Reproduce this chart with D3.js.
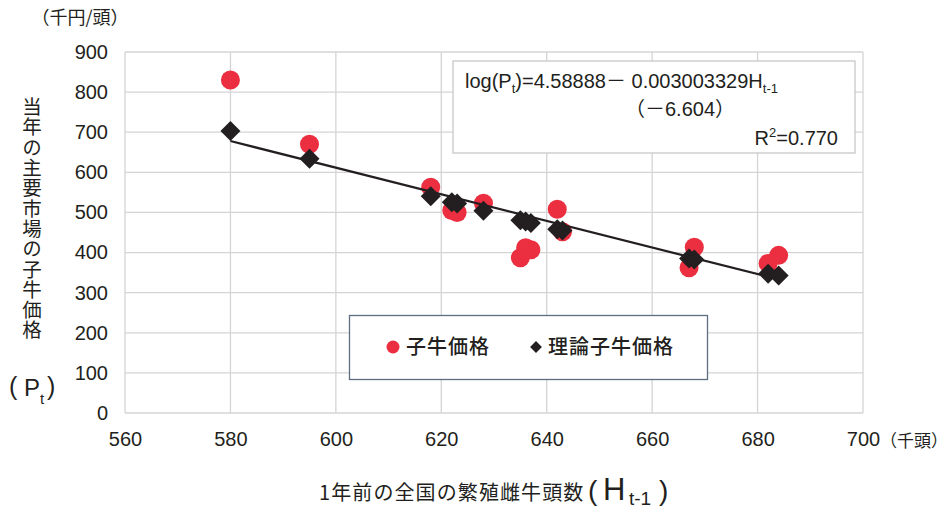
<!DOCTYPE html>
<html><head><meta charset="utf-8">
<script src="https://cdn.jsdelivr.net/npm/d3@7/dist/d3.min.js"></script>
<style>
html,body{margin:0;padding:0;background:#fff;}
svg{display:block;}
text{font-family:"Liberation Sans","Noto Sans CJK JP",sans-serif;fill:#231F20;}
.cjk{font-family:"Noto Sans CJK JP","Noto Sans CJK SC",sans-serif;}
</style></head>
<body>
<script>
// ---- data ----
const herdSize = [580, 595, 618, 622, 623, 628, 635, 636, 637, 642, 643, 667, 668, 682, 684];
const calfPrice = [830, 670, 563, 505, 500, 523, 387, 412, 407, 508, 452, 362, 413, 373, 393];
const theoryPrice = [703.0, 633.8, 540.5, 525.7, 522.1, 504.4, 480.5, 477.2, 473.9, 457.8, 454.7, 385.2, 382.5, 347.2, 342.5];
const trendH = [580, 684];
const trendP = [678, 333];
const xTicks = [560, 580, 600, 620, 640, 660, 680, 700];
const yTicks = [0, 100, 200, 300, 400, 500, 600, 700, 800, 900];
const seriesNames = ["子牛価格", "理論子牛価格"];

const W = 949, H = 509;
const M = {left: 125, right: 863, top: 52, bottom: 413};
const svg = d3.select("body").append("svg").attr("width", W).attr("height", H);

const x = d3.scaleLinear().domain([560, 700]).range([M.left, M.right]);
const y = d3.scaleLinear().domain([0, 900]).range([M.bottom, M.top]);

const gridColor = "#D4D4D4";
// grid
svg.append("g").selectAll("line").data(yTicks).join("line")
  .attr("x1", M.left).attr("x2", M.right).attr("y1", d => y(d)).attr("y2", d => y(d))
  .attr("stroke", gridColor).attr("stroke-width", 1.3);
svg.append("g").selectAll("line").data(xTicks).join("line")
  .attr("y1", M.top).attr("y2", M.bottom).attr("x1", d => x(d)).attr("x2", d => x(d))
  .attr("stroke", gridColor).attr("stroke-width", 1.3);

// axes (labels only)
const yAxis = d3.axisLeft(y).tickValues(yTicks).tickSize(0).tickPadding(0).tickFormat(d3.format("d"));
const gy = svg.append("g").attr("transform", `translate(${M.left - 17},0)`).call(yAxis);
gy.select(".domain").remove();
gy.selectAll("text").attr("font-size", 20).attr("font-family", "Liberation Sans").attr("fill", "#231F20");

const xAxis = d3.axisBottom(x).tickValues(xTicks).tickSize(0).tickPadding(0).tickFormat(d3.format("d"));
const gx = svg.append("g").attr("transform", `translate(0,${M.bottom + 19})`).call(xAxis);
gx.select(".domain").remove();
gx.selectAll("text").attr("font-size", 20).attr("font-family", "Liberation Sans").attr("fill", "#231F20");

svg.append("text").attr("class", "cjk").attr("x", x(700) + 17).attr("y", M.bottom + 34)
  .attr("font-size", 17).text("（千頭）");

// red circles
svg.append("g").selectAll("circle").data(herdSize).join("circle")
  .attr("cx", d => x(d)).attr("cy", (d, i) => y(calfPrice[i])).attr("r", 9.5)
  .attr("fill", "#EC2F40");

// trend line
svg.append("line")
  .attr("x1", x(trendH[0])).attr("y1", y(trendP[0]))
  .attr("x2", x(trendH[1])).attr("y2", y(trendP[1]))
  .attr("stroke", "#231F20").attr("stroke-width", 2.2);

// diamonds
const diamond = d3.symbol().type(d3.symbolSquare).size(200);
svg.append("g").selectAll("path").data(herdSize).join("path")
  .attr("d", diamond)
  .attr("transform", (d, i) => `translate(${x(d)},${y(theoryPrice[i])}) rotate(45)`)
  .attr("fill", "#231F20");

// equation box
svg.append("rect").attr("x", 453).attr("y", 61).attr("width", 402).attr("height", 92)
  .attr("fill", "#fff").attr("stroke", "#C8C8C8").attr("stroke-width", 1.3);
const eq = svg.append("text").attr("x", 465).attr("y", 88).attr("font-size", 20);
eq.append("tspan").text("log(P");
eq.append("tspan").attr("font-size", 13).attr("dy", 5).text("t");
eq.append("tspan").attr("dy", -5).text(")=4.58888");
eq.append("tspan").attr("class", "cjk").text("－");
eq.append("tspan").text(" 0.003003329H");
eq.append("tspan").attr("font-size", 13).attr("dy", 5).text("t-1");
const se = svg.append("text").attr("x", 680).attr("y", 116).attr("font-size", 20).attr("text-anchor", "middle");
se.append("tspan").attr("class", "cjk").text("（－");
se.append("tspan").text("6.604");
se.append("tspan").attr("class", "cjk").text("）");
const r2 = svg.append("text").attr("x", 838).attr("y", 145).attr("font-size", 20).attr("text-anchor", "end");
r2.append("tspan").text("R");
r2.append("tspan").attr("font-size", 13).attr("dy", -8).text("2");
r2.append("tspan").attr("dy", 8).text("=0.770");

// legend
svg.append("rect").attr("x", 349.5).attr("y", 315.5).attr("width", 358).attr("height", 64)
  .attr("fill", "#fff").attr("stroke", "#5E6E82").attr("stroke-width", 1.3);
svg.append("circle").attr("cx", 393).attr("cy", 347).attr("r", 6.5).attr("fill", "#EC2F40");
svg.append("text").attr("class", "cjk").attr("x", 406).attr("y", 354).attr("font-size", 20)
  .attr("font-weight", 500).attr("letter-spacing", 1).text(seriesNames[0]);
svg.append("path").attr("d", d3.symbol().type(d3.symbolSquare).size(70))
  .attr("transform", "translate(536,347) rotate(45)").attr("fill", "#231F20");
svg.append("text").attr("class", "cjk").attr("x", 548).attr("y", 354).attr("font-size", 20)
  .attr("font-weight", 500).attr("letter-spacing", 1).text(seriesNames[1]);

// y-axis unit and title
svg.append("text").attr("class", "cjk").attr("x", 80).attr("y", 24).attr("font-size", 18)
  .attr("text-anchor", "middle").text("（千円/頭）");
svg.append("text").attr("class", "cjk").attr("x", 32).attr("y", 97)
  .attr("font-size", 19.5).attr("letter-spacing", 0.8)
  .style("writing-mode", "vertical-rl")
  .text("当年の主要市場の子牛価格");
svg.append("text").attr("x", 9).attr("y", 395).attr("font-size", 25).attr("font-weight", 300).text("(");
svg.append("text").attr("x", 24).attr("y", 396).attr("font-size", 24).text("P");
svg.append("text").attr("x", 40).attr("y", 404).attr("font-size", 15).text("t");
svg.append("text").attr("x", 47).attr("y", 395).attr("font-size", 25).attr("font-weight", 300).text(")");

// x-axis title
svg.append("text").attr("class", "cjk").attr("x", 319).attr("y", 500).attr("font-size", 20)
  .attr("letter-spacing", 1.1).text("1年前の全国の繁殖雌牛頭数");
svg.append("text").attr("x", 588).attr("y", 500).attr("font-size", 28).text("(");
svg.append("text").attr("x", 603).attr("y", 500).attr("font-size", 31).text("H");
svg.append("text").attr("x", 629).attr("y", 505).attr("font-size", 19).text("t-1");
svg.append("text").attr("x", 659).attr("y", 500).attr("font-size", 28).text(")");
</script>
</body></html>
